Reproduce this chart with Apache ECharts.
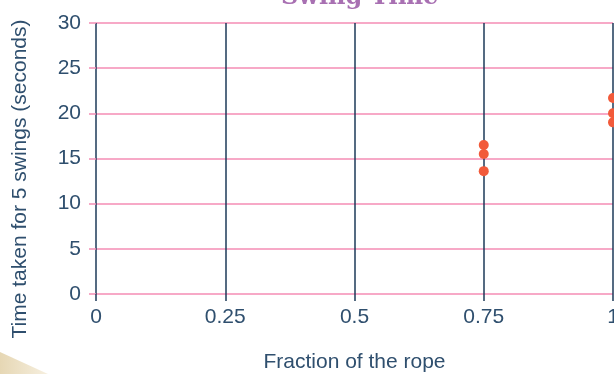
<!DOCTYPE html>
<html>
<head>
<meta charset="utf-8">
<script src="https://cdn.jsdelivr.net/npm/echarts@6/dist/echarts.min.js"></script>
<style>
  html, body { margin: 0; padding: 0; background: #ffffff; }
  #main { width: 614px; height: 374px; }
</style>
</head>
<body>
<div id="main"></div>
<script>
// fraction of the rope and time for 5 swings (s)
var fractions = [0.75, 0.75, 0.75, 1, 1, 1];
var times = [16.5, 15.5, 13.6, 21.7, 20.0, 19.0];
var xTicks = [0, 0.25, 0.5, 0.75, 1];
var yTicks = [0, 5, 10, 15, 20, 25, 30];

var points = fractions.map(function (f, i) { return [f, times[i]]; });

var labelColor = '#2f4f6e';
var textFont = 'Liberation Sans';
var chart = echarts.init(document.getElementById('main'));

var option = {
    backgroundColor: '#ffffff',
    animation: false,
    title: {
        text: 'Swing Time',
        left: 276,
        top: -19,
        textStyle: {
            color: '#a870b2',
            fontSize: 24,
            fontWeight: 'bold',
            fontFamily: 'DejaVu Serif'
        }
    },
    grid: { left: 96, right: 1, top: 23, bottom: 80, outerBoundsMode: 'none' },
    xAxis: {
        type: 'value',
        min: xTicks[0],
        max: xTicks[xTicks.length - 1],
        interval: 0.25,
        name: 'Fraction of the rope',
        nameLocation: 'middle',
        nameGap: 58,
        nameTextStyle: { color: labelColor, fontSize: 21, fontFamily: textFont },
        axisLine: { show: false },
        axisTick: { show: true, length: 7, lineStyle: { color: '#1c3a58', width: 1.5 } },
        axisLabel: { color: labelColor, fontSize: 21, margin: 13, fontFamily: textFont },
        splitLine: { show: true, lineStyle: { color: '#1c3a58', width: 1.5 } }
    },
    yAxis: {
        type: 'value',
        min: yTicks[0],
        max: yTicks[yTicks.length - 1],
        interval: 5,
        axisLine: { show: false },
        axisTick: { show: true, length: 7, lineStyle: { color: '#f48db4', width: 1.5 } },
        axisLabel: { color: labelColor, fontSize: 21, margin: 15, fontFamily: textFont },
        splitLine: { show: true, lineStyle: { color: '#f48db4', width: 1.5 } }
    },
    graphic: [
        {
            type: 'text',
            rotation: Math.PI / 2,
            x: 20, y: 179,
            style: {
                text: 'Time taken for 5 swings (seconds)',
                fill: labelColor,
                fontSize: 21,
                fontFamily: textFont,
                align: 'center',
                verticalAlign: 'middle'
            }
        },
        {
            type: 'polygon',
            shape: { points: [[0, 352], [48, 374], [0, 374]] },
            style: {
                fill: new echarts.graphic.LinearGradient(0, 0, 1, 0, [
                    { offset: 0, color: '#e6d7b4' },
                    { offset: 1, color: '#f6efdf' }
                ])
            },
            silent: true
        }
    ],
    series: [
        {
            type: 'scatter',
            data: points,
            symbolSize: 10,
            clip: false,
            itemStyle: { color: '#f25a3a', opacity: 1 }
        }
    ]
};

chart.setOption(option);
</script>
</body>
</html>
